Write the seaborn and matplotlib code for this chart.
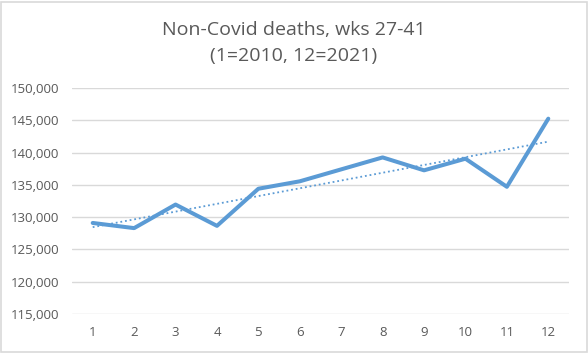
import numpy as np
import pandas as pd
import matplotlib
matplotlib.use("Agg")
import matplotlib.pyplot as plt
import seaborn as sns
from matplotlib.ticker import FuncFormatter

years = [1, 2, 3, 4, 5, 6, 7, 8, 9, 10, 11, 12]
deaths = [129100, 128300, 131950, 128650, 134400, 135550, 137400, 139250, 137250, 139050, 134700, 145250]
y_ticks = [115000, 120000, 125000, 130000, 135000, 140000, 145000, 150000]
title = "Non-Covid deaths, wks 27-41\n(1=2010, 12=2021)"

df = pd.DataFrame({"year": years, "deaths": deaths})
slope, intercept = np.polyfit(df["year"], df["deaths"], 1)
df["trend"] = slope * df["year"] + intercept

sns.set_theme(style="white")
plt.rcParams["font.family"] = ["Open Sans", "DejaVu Sans"]

blue = "#5b9bd5"
grey_text = "#595959"
grid = "#d9d9d9"

fig = plt.figure(figsize=(5.88, 3.53), dpi=100)
ax = fig.add_axes([72/588, 1-314/353, (569-72)/588, (314-88)/353])

sns.lineplot(data=df, x="year", y="deaths", ax=ax, color=blue, linewidth=2.9,
             solid_capstyle="round", solid_joinstyle="round")
sns.lineplot(data=df, x="year", y="trend", ax=ax, color=blue, linewidth=1.3,
             linestyle=(0, (1, 1.6)))

ax.set_xlim(0.5, 12.5)
ax.set_ylim(115000, 150000)
ax.set_xticks(years)
ax.set_xticklabels([str(y) for y in years])
ax.set_yticks(y_ticks)
ax.yaxis.set_major_formatter(FuncFormatter(lambda v, p: f"{int(v):,}"))
ax.tick_params(axis="both", length=0, labelsize=9.5, colors=grey_text)
ax.tick_params(axis="y", pad=9)
ax.tick_params(axis="x", pad=9)
ax.grid(axis="y", color=grid, linewidth=1.0)
ax.set_axisbelow(True)
for s in ax.spines.values():
    s.set_visible(False)
ax.set_xlabel("")
ax.set_ylabel("")

fig.text(0.5, 1-43/353, title, ha="center", va="center", fontsize=14,
         color=grey_text, linespacing=1.55)

border = plt.Rectangle((0.5/588, 1.5/353), 586/588, 350/353, transform=fig.transFigure,
                       fill=False, edgecolor=grid, linewidth=1.2)
fig.patches.append(border)

fig.savefig("out.png", dpi=100)
